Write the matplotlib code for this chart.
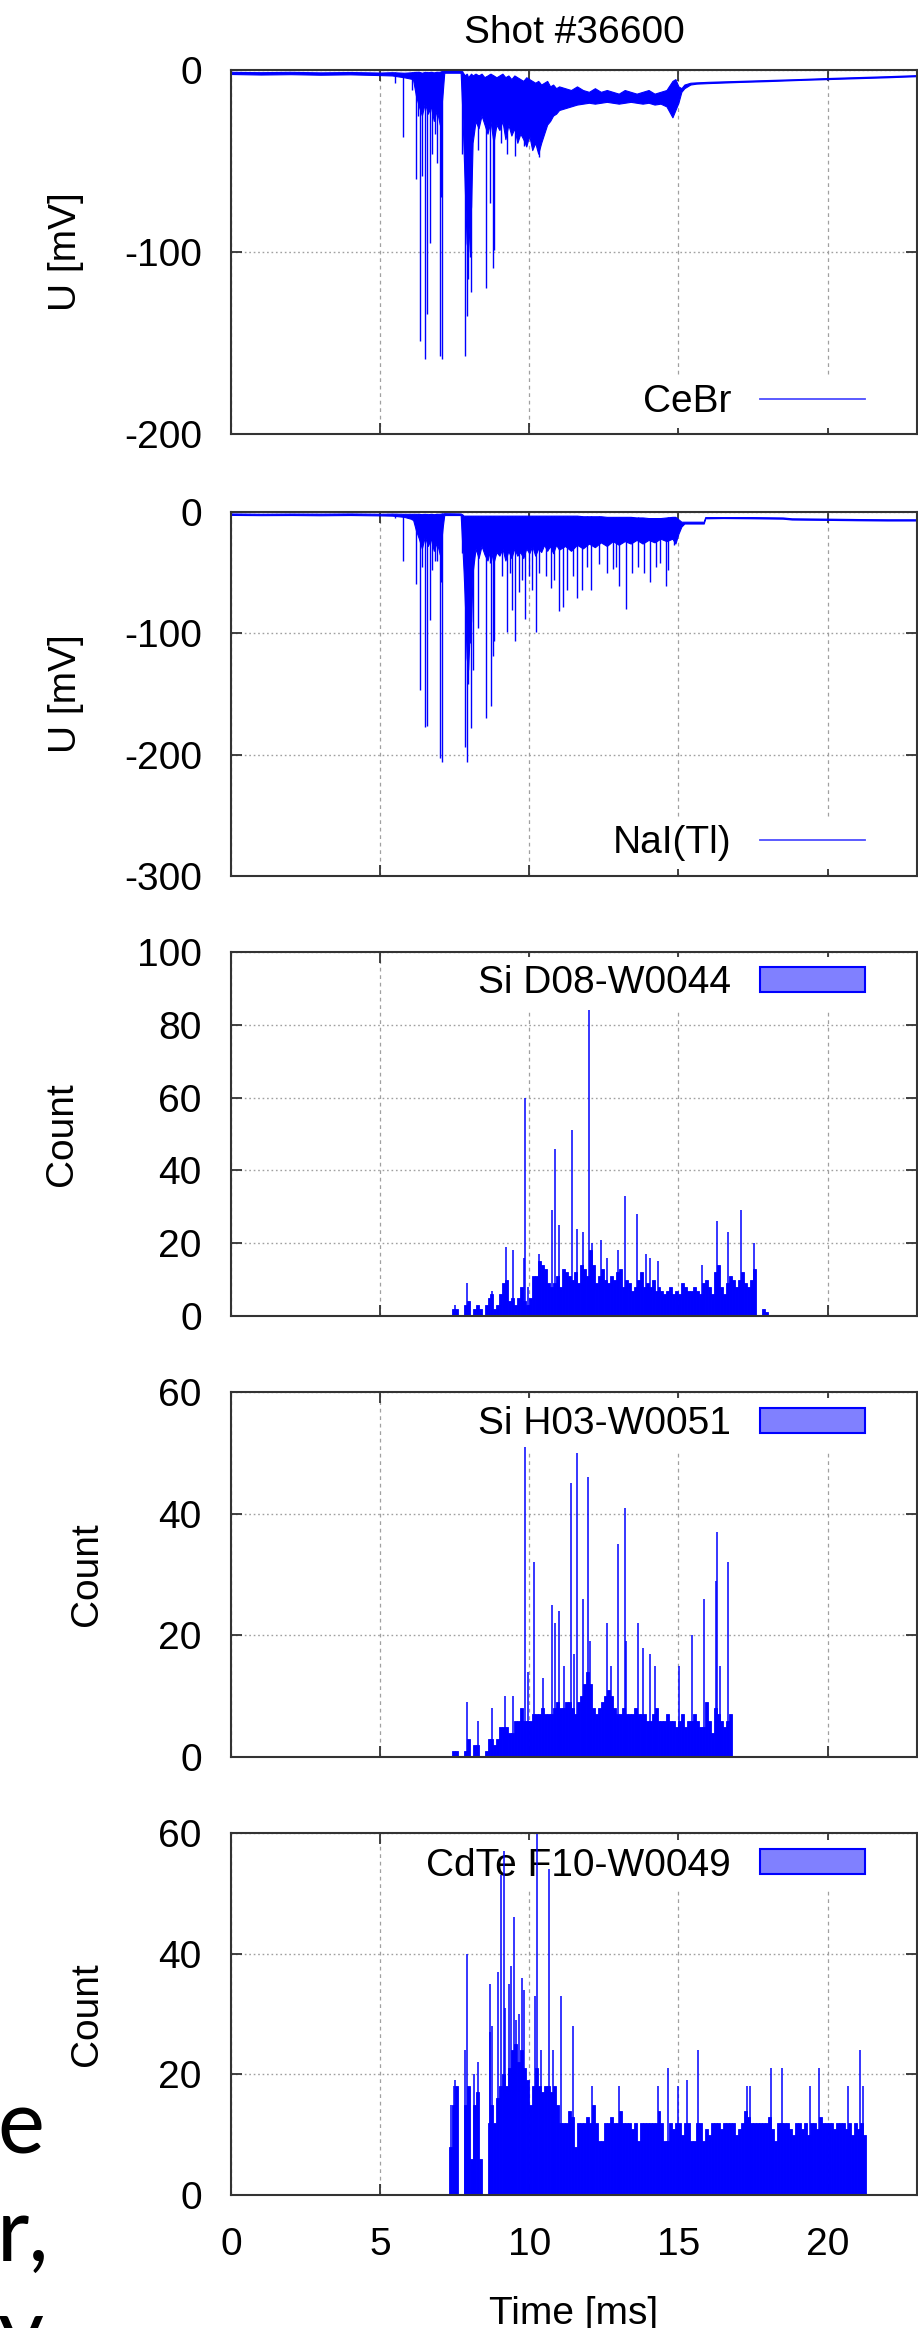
import numpy as np
import matplotlib
matplotlib.use("Agg")
import matplotlib.pyplot as plt
from matplotlib.lines import Line2D
from matplotlib.patches import Patch

plt.rcParams['font.family'] = ['Liberation Sans', 'DejaVu Sans']
plt.rcParams['axes.unicode_minus'] = False

# ---------------------------------------------------------------------------
# Shot #36600
# ---------------------------------------------------------------------------

# CeBr scintillator: dense noise band, rows of (t [ms], upper [mV], lower [mV])
cebr_band = [
    (0.0, -1.0, -2.2), (1.0, -1.2, -2.5), (2.0, -1.0, -2.3), (3.0, -1.3, -2.6), (4.0, -1.1, -2.4),
    (5.0, -1.4, -2.8), (5.4, -1.2, -3.0), (5.8, -1.5, -4.0), (6.1, -1.2, -5.0), (6.2, -1.0, -14),
    (6.3, -1.0, -20), (6.4, -1.5, -25), (6.5, -1.0, -18), (6.6, -1.2, -24), (6.7, -1.0, -20),
    (6.8, -1.3, -28), (6.9, -1.0, -22), (7.0, -1.0, -30), (7.1, -0.5, -12), (7.15, -0.2, -1.5),
    (7.7, -0.2, -1.5), (7.75, -0.8, -20), (7.8, -2, -45), (7.85, -3, -70), (7.9, -2, -95),
    (7.95, -4, -100), (8.0, -3, -85), (8.05, -2, -75), (8.1, -3, -40), (8.2, -2, -28),
    (8.3, -3, -32), (8.4, -2, -25), (8.5, -4, -30), (8.6, -3, -35), (8.7, -2, -28),
    (8.8, -3, -40), (8.9, -4, -30), (9.0, -3, -33), (9.1, -2, -28), (9.2, -4, -38),
    (9.3, -3, -30), (9.4, -5, -36), (9.5, -3, -32), (9.6, -4, -40), (9.7, -5, -35),
    (9.8, -6, -38), (9.9, -4, -42), (10.0, -5, -36), (10.1, -6, -44), (10.2, -7, -40),
    (10.3, -6, -46), (10.4, -8, -40), (10.5, -7, -35), (10.6, -6, -30), (10.7, -9, -28),
    (10.8, -8, -25), (10.9, -10, -24), (11.0, -9, -22), (11.2, -10, -21), (11.4, -11, -20),
    (11.6, -9, -19), (11.8, -11, -18.5), (12.0, -12, -18), (12.2, -10, -18.5), (12.4, -12, -18),
    (12.6, -11, -17.5), (12.8, -12, -18), (13.0, -13, -18.5), (13.2, -11, -18), (13.4, -12, -17.5),
    (13.6, -13, -18), (13.8, -12, -18.5), (14.0, -11, -18), (14.2, -13, -19), (14.4, -12, -18.5),
    (14.6, -11, -20), (14.8, -6, -26), (14.9, -5, -22), (15.0, -9, -18), (15.1, -10, -12),
    (15.2, -8, -10), (15.4, -7, -8), (15.6, -6.8, -7.5), (16.0, -6.5, -7.2), (17.0, -6.0, -6.6),
    (18.0, -5.5, -6.1), (19.0, -5.0, -5.5), (20.0, -4.4, -5.0), (21.0, -3.9, -4.5), (22.0, -3.4, -4.0),
    (23.0, -2.8, -3.4),
]
# CeBr single pulses (t [ms], minimum [mV])
cebr_pulses = [
    (5.49, -7), (5.77, -37), (6.07, -11), (6.2, -60), (6.26, -25), (6.35, -149), (6.41, -58),
    (6.49, -159), (6.58, -134), (6.67, -95), (6.75, -46), (6.83, -35), (6.89, -51), (7.0, -157),
    (7.05, -70), (7.09, -159), (7.75, -46), (7.84, -157), (7.9, -135), (7.94, -115), (8.0, -103),
    (8.05, -122), (8.29, -44), (8.56, -120), (8.68, -73), (8.77, -109), (8.82, -99), (9.05, -40),
    (9.26, -46), (9.52, -47), (9.82, -42), (10.32, -48),
]

# NaI(Tl) scintillator: dense noise band (t [ms], upper [mV], lower [mV])
nai_band = [
    (0.0, -1.2, -2.4), (1.0, -1.5, -2.6), (2.0, -1.3, -2.5), (3.0, -1.4, -2.7), (4.0, -1.2, -2.5),
    (5.0, -1.5, -2.8), (5.4, -1.3, -3.0), (5.8, -1.5, -4.0), (6.1, -1.5, -6), (6.2, -1.5, -15),
    (6.3, -1.5, -22), (6.4, -1.8, -30), (6.5, -1.5, -20), (6.6, -1.8, -28), (6.7, -1.5, -22),
    (6.8, -1.8, -32), (6.9, -1.5, -25), (7.0, -1.5, -35), (7.1, -1.2, -12), (7.15, -1.0, -2.5),
    (7.7, -1.2, -2.5), (7.75, -2, -25), (7.8, -3, -50), (7.85, -3, -80), (7.9, -3, -120),
    (7.95, -3, -130), (8.0, -3, -100), (8.05, -3, -90), (8.1, -3, -50), (8.2, -3, -30),
    (8.3, -3, -38), (8.4, -3, -28), (8.5, -3, -35), (8.6, -3, -40), (8.7, -3, -30),
    (8.8, -3, -42), (8.9, -3, -33), (9.0, -3, -36), (9.1, -3, -30), (9.2, -3, -40),
    (9.3, -3, -32), (9.4, -3, -38), (9.5, -3, -30), (9.6, -3, -36), (9.7, -3, -33),
    (9.8, -3, -38), (9.9, -3, -30), (10.0, -3, -34), (10.1, -3, -28), (10.2, -3, -36),
    (10.3, -3, -30), (10.4, -3, -33), (10.5, -3, -27), (10.6, -3, -32), (10.7, -3, -28),
    (10.8, -3, -34), (10.9, -3, -27), (11.0, -3, -31), (11.2, -3, -28), (11.4, -3, -32),
    (11.6, -3, -27), (11.8, -3.5, -30), (12.0, -3.5, -26), (12.2, -3.5, -29), (12.4, -3.5, -25),
    (12.6, -4, -28), (12.8, -4, -24), (13.0, -4, -27), (13.2, -4, -24), (13.4, -4, -26),
    (13.6, -4.5, -23), (13.8, -4.5, -26), (14.0, -5, -23), (14.2, -5, -25), (14.4, -5, -22),
    (14.6, -4.5, -24), (14.8, -4, -22), (14.9, -4, -26), (15.0, -6, -18), (15.1, -8, -12),
    (15.2, -8, -9.5), (15.85, -8, -9.5), (15.9, -4.2, -5.2), (16.5, -4.2, -5.0), (17.5, -4.2, -5.2),
    (18.5, -4.5, -5.5), (18.8, -5.2, -6.2), (20.0, -5.5, -6.5), (21.0, -5.8, -6.8), (22.0, -6.0, -7.0),
    (23.0, -6.0, -7.0),
]
nai_pulses = [
    (5.49, -5), (5.77, -40), (6.07, -7), (6.2, -59), (6.26, -12), (6.35, -147), (6.41, -45),
    (6.49, -177), (6.58, -176), (6.67, -89), (6.75, -48), (6.83, -40), (6.89, -40), (7.0, -203),
    (7.05, -58), (7.09, -206), (7.75, -34), (7.84, -194), (7.9, -206), (7.95, -142), (8.0, -108),
    (8.05, -178), (8.1, -130), (8.18, -22), (8.29, -96), (8.37, -24), (8.56, -170), (8.65, -27),
    (8.68, -42), (8.72, -160), (8.78, -119), (8.82, -106), (8.98, -31), (9.07, -53), (9.26, -99),
    (9.34, -50), (9.43, -81), (9.51, -106), (9.65, -66), (9.76, -56), (9.85, -88), (9.98, -53),
    (10.09, -64), (10.24, -99), (10.33, -50), (10.55, -53), (10.72, -63), (10.83, -56), (10.99, -82),
    (11.13, -78), (11.25, -64), (11.47, -53), (11.61, -71), (11.78, -64), (11.95, -45), (12.06, -64),
    (12.34, -43), (12.62, -50), (12.8, -47), (12.9, -45), (13.0, -61), (13.26, -80), (13.46, -50),
    (13.66, -45), (13.84, -50), (14.04, -58), (14.24, -45), (14.38, -42), (14.57, -61), (14.66, -48),
    (14.84, -27),
]

# histograms: 0.1 ms bins, first bin start, counts per bin, single tall bins
BIN = 0.1

si_d08_start = 7.4
si_d08_counts = [
    2, 2, 0, 0, 3, 4,
    0, 2, 3, 2, 0, 3, 5, 6, 2, 3,
    6, 9, 10, 4, 5, 3, 5, 8, 4, 3,
    5, 11, 11, 15, 14, 13, 9, 8, 9, 11,
    8, 13, 12, 11, 10, 12, 9, 14, 13, 11,
    18, 14, 9, 11, 13, 10, 9, 11, 10, 12,
    13, 8, 10, 9, 7, 8, 10, 12, 8, 9,
    8, 10, 7, 8, 7, 6, 7, 8, 6, 7,
    6, 9, 8, 7, 7, 8, 7, 6, 9, 10,
    8, 6, 12, 14, 8, 6, 9, 11, 10, 8,
    10, 12, 9, 8, 10, 13, 0, 0, 2, 1,
]
si_d08_peaks = [
    (7.505, 3), (7.897, 9), (8.736, 7), (9.206, 19), (9.45, 18), (9.82, 16), (9.865, 60),
    (9.966, 8), (10.32, 17), (10.75, 29), (10.86, 46), (10.995, 25), (11.42, 51), (11.61, 24),
    (11.8, 23), (11.99, 84), (12.1, 20), (12.42, 21), (12.6, 16), (12.96, 18), (13.2, 33),
    (13.62, 28), (13.9, 17), (14.05, 16), (14.3, 15), (15.8, 14), (16.31, 26), (16.68, 23),
    (17.1, 29), (17.54, 20),
]

si_h03_start = 7.4
si_h03_counts = [
    1, 1, 0, 0, 1, 3,
    0, 2, 2, 0, 0, 1, 3, 3, 2, 3,
    5, 5, 5, 4, 4, 6, 6, 8, 6, 6,
    6, 7, 7, 7, 8, 7, 7, 7, 8, 9,
    8, 8, 9, 9, 8, 7, 9, 10, 12, 14,
    12, 8, 7, 8, 9, 10, 11, 10, 8, 7,
    7, 8, 7, 7, 7, 8, 7, 7, 7, 6,
    6, 7, 8, 6, 6, 6, 7, 6, 6, 5,
    6, 7, 5, 6, 6, 7, 6, 5, 5, 9,
    6, 4, 8, 7, 6, 5, 6, 7,
]
si_h03_peaks = [
    (7.9, 9), (8.27, 6), (8.74, 8), (9.18, 10), (9.45, 10), (9.865, 51), (9.97, 14), (10.16, 32),
    (10.47, 13), (10.75, 25), (10.86, 22), (10.995, 24), (11.18, 15), (11.41, 45), (11.5, 17),
    (11.61, 50), (11.8, 26), (11.98, 46), (12.04, 19), (12.6, 22), (12.74, 15), (12.97, 35),
    (13.2, 41), (13.23, 19), (13.63, 22), (13.83, 18), (14.05, 17), (14.2, 15), (15.02, 15),
    (15.47, 20), (15.87, 26), (16.27, 29), (16.31, 37), (16.4, 15), (16.68, 32),
]

cdte_start = 7.3
cdte_counts = [
    8, 15, 18, 0, 0, 15, 18,
    6, 15, 17, 6, 0, 0, 12, 15, 12, 16,
    18, 20, 18, 21, 24, 25, 22, 24, 21, 19,
    15, 18, 21, 18, 17, 18, 18, 17, 18, 15,
    12, 12, 12, 14, 13, 8, 12, 12, 12, 13,
    12, 15, 12, 9, 9, 12, 12, 13, 12, 12,
    14, 12, 12, 12, 11, 12, 9, 12, 12, 12,
    12, 12, 12, 14, 12, 9, 9, 12, 11, 12,
    12, 10, 12, 12, 9, 9, 12, 12, 9, 11,
    10, 12, 12, 12, 11, 12, 12, 12, 12, 10,
    11, 12, 14, 13, 12, 12, 12, 12, 12, 12,
    13, 11, 9, 12, 12, 12, 12, 11, 10, 12,
    12, 11, 12, 10, 12, 12, 11, 13, 12, 12,
    12, 12, 11, 12, 12, 12, 11, 12, 10, 12,
    11, 12, 10,
]
cdte_peaks = [
    (7.38, 15), (7.47, 18), (7.52, 19), (7.86, 24), (7.9, 40), (8.16, 20), (8.27, 22), (8.68, 35),
    (8.7, 27), (8.74, 28), (8.96, 37), (9.06, 53), (9.15, 57), (9.2, 31), (9.32, 35), (9.39, 38),
    (9.5, 46), (9.55, 29), (9.66, 30), (9.75, 36), (9.83, 34), (10.18, 33), (10.25, 61), (10.4, 24),
    (10.66, 54), (10.79, 24), (11.08, 33), (11.48, 28), (12.11, 18), (13.01, 18), (14.3, 18),
    (14.66, 21), (14.98, 18), (15.3, 19), (15.65, 24), (17.3, 18), (17.4, 18), (18.1, 21),
    (18.49, 21), (19.4, 18), (19.72, 21), (20.67, 18), (21.1, 24), (21.2, 18),
]

# ---------------------------------------------------------------------------
W, H = 918.0, 2328.0
FS = 28
BLUE = '#0000ff'
SPINE = '#333333'

fig = plt.figure(figsize=(W / 100, H / 100), dpi=100)

LEFT, RIGHT = 231, 917
panel_px = [(70, 434), (512, 876), (952, 1316), (1392, 1757), (1833, 2195)]
axs = [fig.add_axes([LEFT / W, 1 - b / H, (RIGHT - LEFT) / W, (b - t) / H]) for t, b in panel_px]


def style(ax, ylim, yticks, ylabel, label_x, show_x=False):
    ax.set_xlim(0, 23)
    ax.set_ylim(*ylim)
    ax.set_xticks([0, 5, 10, 15, 20])
    ax.set_yticks(yticks)
    ax.set_axisbelow(True)
    ax.xaxis.grid(True, color='#a0a0a0', linestyle=(0, (3, 3)), linewidth=0.9)
    ax.yaxis.grid(True, color='#a0a0a0', linestyle=(0, (1.2, 2.0)), linewidth=1.0)
    ax.tick_params(direction='in', length=8, width=1.3, color=SPINE,
                   top=True, right=True, labelsize=FS, pad=21)
    ax.tick_params(axis='x', pad=23, labelbottom=show_x)
    for s in ax.spines.values():
        s.set_color(SPINE)
        s.set_linewidth(1.5)
    ax.set_ylabel(ylabel, fontsize=FS, va='center')
    ax.yaxis.set_label_coords(label_x, 0.5)


def key(ax, handle, label, y_frac):
    # gnuplot-style key: text first, sample right; white box drawn under the data
    leg = ax.legend([handle], [label], loc='center right', bbox_to_anchor=(0.936, y_frac),
                    frameon=True, fancybox=False, framealpha=1, facecolor='white',
                    edgecolor='none', borderpad=0.2, borderaxespad=0, handlelength=2.7,
                    handleheight=0.62, handletextpad=0.75, markerfirst=False, fontsize=FS)
    leg.set_zorder(1.5)


def trace(ax, band, pulses):
    t, hi, lo = map(np.array, zip(*band))
    ax.fill_between(t, lo, hi, color=BLUE, linewidth=0.8, zorder=2)
    pt, pu = map(np.array, zip(*pulses))
    ax.vlines(pt, pu, np.interp(pt, t, hi), colors=BLUE, linewidth=1.0, zorder=2)


def histo(ax, start, counts, peaks):
    counts = np.array(counts, dtype=float)
    edges = start + BIN * np.arange(len(counts))
    ax.bar(edges, counts, width=BIN, align='edge', color=BLUE, edgecolor=BLUE,
           linewidth=0.6, zorder=2)
    pt, pc = map(np.array, zip(*peaks))
    ax.vlines(pt, 0, pc, colors=BLUE, linewidth=1.1, zorder=2)


line_key = Line2D([], [], color='#4d4dff', linewidth=1.3)
box_key = Patch(facecolor='#8080ff', edgecolor=BLUE, linewidth=1.5)

# CeBr
ax = axs[0]
trace(ax, cebr_band, cebr_pulses)
style(ax, (-200, 0), [-200, -100, 0], 'U [mV]', -0.2405)
key(ax, line_key, 'CeBr', 0.088)

# NaI(Tl)
ax = axs[1]
trace(ax, nai_band, nai_pulses)
style(ax, (-300, 0), [-300, -200, -100, 0], 'U [mV]', -0.2405)
key(ax, line_key, 'NaI(Tl)', 0.0907)

# Si D08-W0044
ax = axs[2]
histo(ax, si_d08_start, si_d08_counts, si_d08_peaks)
style(ax, (0, 100), [0, 20, 40, 60, 80, 100], 'Count', -0.246)
key(ax, box_key, 'Si D08-W0044', 0.915)

# Si H03-W0051
ax = axs[3]
histo(ax, si_h03_start, si_h03_counts, si_h03_peaks)
style(ax, (0, 60), [0, 20, 40, 60], 'Count', -0.21)
key(ax, box_key, 'Si H03-W0051', 0.912)

# CdTe F10-W0049
ax = axs[4]
histo(ax, cdte_start, cdte_counts, cdte_peaks)
style(ax, (0, 60), [0, 20, 40, 60], 'Count', -0.21, show_x=True)
key(ax, box_key, 'CdTe F10-W0049', 0.910)
ax.set_xlabel('Time [ms]', fontsize=FS, labelpad=24)

fig.text(574 / W, 1 - 33 / H, 'Shot #36600', fontsize=FS, ha='center', va='center')

# fragments of slide text cut off at the left edge
frag = dict(family=['Lato', 'DejaVu Sans'], fontsize=64, color='black', ha='left', va='baseline')
fig.text(-3 / W, 1 - 2154 / H, 'e', **frag)
fig.text(-3 / W, 1 - 2261 / H, 'r,', **frag)
fig.text(-3 / W, 1 - 2361 / H, 'y', **frag)

fig.savefig('out.png', dpi=100)
